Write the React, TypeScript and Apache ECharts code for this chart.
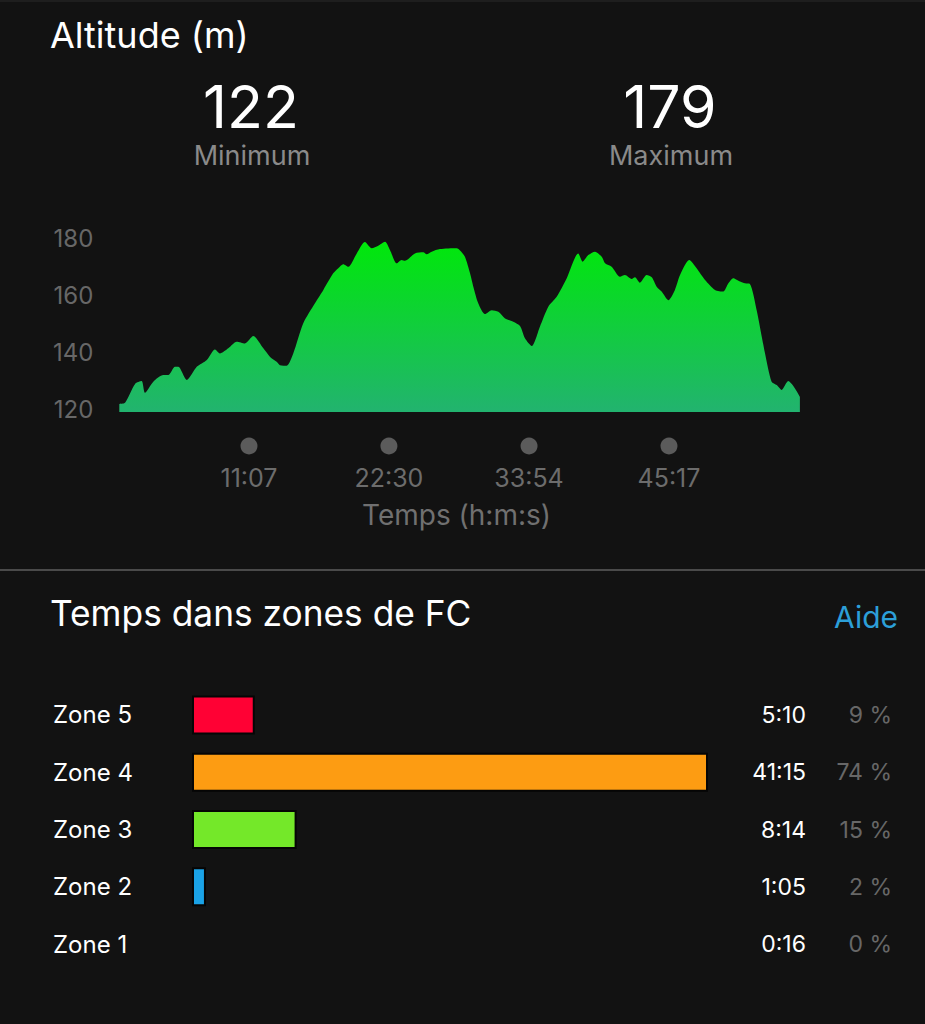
import React, { useEffect, useRef } from "react";
import * as echarts from "echarts";

// ---- Data ----
const titleAltitude = "Altitude (m)";
const minLabel = "Minimum";
const maxLabel = "Maximum";
const minValue = "122";
const maxValue = "179";
const zonesTitle = "Temps dans zones de FC";
const helpLabel = "Aide";
const timeAxisName = "Temps (h:m:s)";

// elapsed time (s) and altitude (m)
const altTimes = [
  34, 62, 111, 143, 159, 200, 249, 273, 306, 322, 363, 412, 461, 501, 525, 566, 607, 647, 688, 737,
  770, 802, 818, 851, 883, 932, 989, 1030, 1078, 1103, 1127, 1152, 1193, 1233, 1266, 1298, 1331, 1355,
  1388, 1412, 1428, 1477, 1518, 1534, 1559, 1599, 1681, 1697, 1721, 1746, 1762, 1786, 1819, 1852, 1884,
  1917, 1957, 1990, 2014, 2047, 2087, 2128, 2169, 2218, 2274, 2296, 2323, 2356, 2389, 2405, 2437, 2478,
  2502, 2535, 2551, 2575, 2608, 2633, 2657, 2681, 2714, 2746, 2771, 2816, 2852, 2893, 2942, 2982, 3007,
  3031, 3064, 3088, 3112, 3145, 3186, 3218, 3243, 3267, 3299, 3324, 3356,
];
const altValues = [
  121.8, 122.2, 128.8, 129.8, 125.7, 129.6, 131.9, 131.9, 134.8, 134.8, 130.2, 134.8, 137.2, 140.9, 139.5,
  141.3, 143.6, 143.0, 145.6, 141.3, 138.3, 136.6, 135.4, 135.2, 139.5, 150.1, 157.1, 161.8, 167.6, 169.4,
  170.8, 169.9, 174.6, 178.6, 176.4, 177.3, 178.7, 175.8, 171.1, 172.3, 172.0, 174.6, 175.0, 174.3, 175.2,
  176.1, 176.4, 175.6, 173.4, 167.6, 162.9, 157.1, 153.3, 154.7, 154.1, 151.8, 150.6, 149.1, 144.8, 142.1,
  148.9, 155.9, 159.4, 165.9, 174.6, 171.7, 174.0, 175.2, 173.4, 171.1, 169.9, 166.4, 167.0, 165.6, 166.2,
  164.3, 167.0, 166.2, 162.9, 161.2, 158.2, 161.8, 167.0, 172.3, 169.4, 165.3, 161.8, 161.2, 164.1, 165.9,
  164.7, 164.1, 163.9, 154.7, 139.5, 129.6, 128.4, 126.7, 129.8, 128.1, 124.3,
];
const timeTicks = [667, 1350, 2034, 2717];
const timeTickLabels = ["11:07", "22:30", "33:54", "45:17"];
const altTickValues = [120, 140, 160, 180];

const zones = ["Zone 5", "Zone 4", "Zone 3", "Zone 2", "Zone 1"];
const zoneTimes = ["5:10", "41:15", "8:14", "1:05", "0:16"];
const zonePercents = [9, 74, 15, 2, 0];
const zoneColors = ["#ff0134", "#fd9c12", "#74e829", "#1aa2e6", "#8a8a8a"];

const FONT = 'Inter, "Noto Sans", Roboto, sans-serif';

export default function App() {
  const ref = useRef<HTMLDivElement>(null);
  useEffect(() => {
    if (!ref.current) return;
    const chart = echarts.init(ref.current, null, { renderer: "svg" });
    const option: any = {
      animation: false,
      backgroundColor: "#121212",
      textStyle: { fontFamily: FONT },
      grid: [
        { left: 112.35, width: 688.35, top: 238, height: 173.9 },
        { left: 112.35, width: 688.35, top: 440, height: 12 },
        { left: 192, width: 697.3, top: 686.3, height: 286.5 },
      ],
      xAxis: [
        { gridIndex: 0, type: "value", min: 0, max: 3360, show: false },
        {
          gridIndex: 1,
          type: "value",
          min: 0,
          max: 3360,
          axisLine: { show: false },
          axisTick: { show: false },
          splitLine: { show: false },
          axisLabel: {
            customValues: timeTicks,
            formatter: (v: number) => {
              const i = timeTicks.indexOf(v);
              return i >= 0 ? timeTickLabels[i] : "";
            },
            color: "#6c6c6c",
            fontSize: 25,
            fontFamily: FONT,
            margin: 13,
          },
          name: timeAxisName,
          nameLocation: "middle",
          nameGap: 49,
          nameTextStyle: { color: "#707070", fontSize: 28, fontFamily: FONT },
        },
        { gridIndex: 2, type: "value", min: 0, max: 100, show: false },
      ],
      yAxis: [
        {
          gridIndex: 0,
          type: "value",
          min: 119,
          max: 180,
          axisLine: { show: false },
          axisTick: { show: false },
          splitLine: { show: false },
          axisLabel: {
            customValues: altTickValues,
            color: "#676767",
            fontSize: 24,
            fontFamily: FONT,
            margin: 19,
          },
        },
        { gridIndex: 1, type: "value", min: -1, max: 1, show: false },
        {
          gridIndex: 2,
          type: "category",
          data: zones,
          inverse: true,
          axisLine: { show: false },
          axisTick: { show: false },
          axisLabel: { color: "#ffffff", fontSize: 24, fontFamily: FONT, align: "left", margin: 139 },
        },
        {
          gridIndex: 2,
          type: "category",
          position: "right",
          data: zoneTimes,
          inverse: true,
          axisLine: { show: false },
          axisTick: { show: false },
          axisLabel: { color: "#ffffff", fontSize: 23, fontFamily: FONT, align: "right", margin: -83.3 },
        },
        {
          gridIndex: 2,
          type: "category",
          position: "right",
          data: zonePercents.map((p) => p + " %"),
          inverse: true,
          axisLine: { show: false },
          axisTick: { show: false },
          axisLabel: { color: "#676767", fontSize: 23, fontFamily: FONT, align: "right", margin: 2.7 },
        },
      ],
      series: [
        {
          type: "line",
          xAxisIndex: 0,
          yAxisIndex: 0,
          data: altTimes.map((t, i) => [t, altValues[i]]),
          smooth: 0.25,
          symbol: "none",
          lineStyle: { width: 0 },
          areaStyle: {
            opacity: 1,
            color: new echarts.graphic.LinearGradient(0, 0, 0, 1, [
              { offset: 0, color: "#00e80a" },
              { offset: 1, color: "#22b36f" },
            ]),
          },
          silent: true,
        },
        {
          type: "scatter",
          xAxisIndex: 1,
          yAxisIndex: 1,
          data: timeTicks.map((t) => [t, 0]),
          symbolSize: 17,
          itemStyle: { color: "#6e6e6e" },
          silent: true,
        },
        {
          type: "bar",
          xAxisIndex: 2,
          yAxisIndex: 2,
          data: zonePercents.map((p, i) => ({
            value: p,
            itemStyle: { color: zoneColors[i], borderWidth: p > 0 ? 2 : 0 },
          })),
          barWidth: 39,
          itemStyle: { borderColor: "#050505", borderWidth: 2 },
          silent: true,
        },
      ],
      graphic: [
        { type: "rect", shape: { x: 0, y: 0, width: 925, height: 2 }, style: { fill: "#1e1e1e" } },
        { type: "rect", shape: { x: 0, y: 569, width: 925, height: 2 }, style: { fill: "#4a4a4a" } },
        {
          type: "text",
          x: 50,
          y: 35,
          style: { text: titleAltitude, fill: "#ffffff", font: `36px ${FONT}`, verticalAlign: "middle", align: "left" },
        },
        {
          type: "text",
          x: 251,
          y: 106,
          style: { text: minValue, fill: "#ffffff", font: `59px ${FONT}`, verticalAlign: "middle", align: "center" },
        },
        {
          type: "text",
          x: 670,
          y: 106,
          style: { text: maxValue, fill: "#ffffff", font: `59px ${FONT}`, verticalAlign: "middle", align: "center" },
        },
        {
          type: "text",
          x: 252,
          y: 155,
          style: { text: minLabel, fill: "#8a8a8a", font: `27px ${FONT}`, verticalAlign: "middle", align: "center" },
        },
        {
          type: "text",
          x: 671,
          y: 155,
          style: { text: maxLabel, fill: "#8a8a8a", font: `27px ${FONT}`, verticalAlign: "middle", align: "center" },
        },
        {
          type: "text",
          x: 50,
          y: 613,
          style: { text: zonesTitle, fill: "#ffffff", font: `35.3px ${FONT}`, verticalAlign: "middle", align: "left" },
        },
        {
          type: "text",
          x: 898,
          y: 617,
          style: { text: helpLabel, fill: "#2c9fd8", font: `30px ${FONT}`, verticalAlign: "middle", align: "right" },
        },
      ],
    };
    chart.setOption(option);
    return () => chart.dispose();
  }, []);
  return (
    <div
      ref={ref}
      style={{ position: "fixed", left: 0, top: 0, width: 925, height: 1024, background: "#121212" }}
    />
  );
}
